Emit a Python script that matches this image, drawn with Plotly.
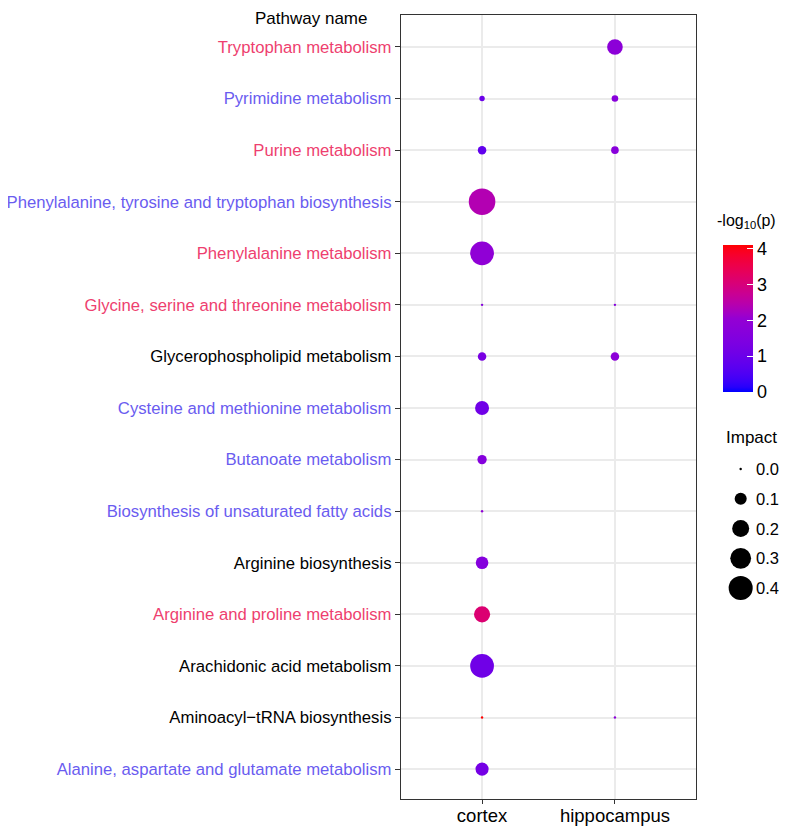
import numpy as np
import plotly.graph_objects as go

# ---------------- data ----------------
pathways = [
    "Tryptophan metabolism",
    "Pyrimidine metabolism",
    "Purine metabolism",
    "Phenylalanine, tyrosine and tryptophan biosynthesis",
    "Phenylalanine metabolism",
    "Glycine, serine and threonine metabolism",
    "Glycerophospholipid metabolism",
    "Cysteine and methionine metabolism",
    "Butanoate metabolism",
    "Biosynthesis of unsaturated fatty acids",
    "Arginine biosynthesis",
    "Arginine and proline metabolism",
    "Arachidonic acid metabolism",
    "Aminoacyl\u2212tRNA biosynthesis",
    "Alanine, aspartate and glutamate metabolism",
]
label_group = ["up", "down", "up", "down", "up", "up", "none", "down",
               "down", "down", "none", "up", "none", "none", "down"]

tissues = ["cortex", "hippocampus"]

cortex_impact = [None, 0.02, 0.05, 0.49, 0.39, 0.0, 0.05, 0.135, 0.06, 0.0, 0.11, 0.18, 0.39, 0.0, 0.12]
cortex_logp = [None, 1.0, 0.8, 2.4, 1.9, 1.6, 1.3, 1.1, 1.6, 1.9, 1.6, 3.1, 1.1, 4.1, 1.2]
hippo_impact = [0.17, 0.03, 0.04, None, None, 0.0, 0.05, None, None, None, None, None, None, 0.0, None]
hippo_logp = [1.8, 1.7, 1.7, None, None, 1.6, 1.8, None, None, None, None, None, None, 1.8, None]

impact_breaks = [0.0, 0.1, 0.2, 0.3, 0.4]
logp_ticks = [0, 1, 2, 3, 4]

# ---------------- styles ----------------
group_colors = {"up": "#EE3F6F", "down": "#6A5CF0", "none": "#000000"}
FONT = "Arial, Liberation Sans, sans-serif"


def srgb_to_lab(rgb):
    c = np.array(rgb) / 255.0
    c = np.where(c > 0.04045, ((c + 0.055) / 1.055) ** 2.4, c / 12.92)
    M = np.array([[0.4124, 0.3576, 0.1805], [0.2126, 0.7152, 0.0722], [0.0193, 0.1192, 0.9505]])
    xyz = M @ c / np.array([0.95047, 1.0, 1.08883])
    f = np.where(xyz > 0.008856, np.cbrt(xyz), 7.787 * xyz + 16 / 116)
    return np.array([116 * f[1] - 16, 500 * (f[0] - f[1]), 200 * (f[1] - f[2])])


def lab_to_srgb(lab):
    L, a, b = lab
    fy = (L + 16) / 116
    fx = fy + a / 500
    fz = fy - b / 200
    f = np.array([fx, fy, fz])
    xyz = np.where(f ** 3 > 0.008856, f ** 3, (f - 16 / 116) / 7.787) * np.array([0.95047, 1.0, 1.08883])
    Minv = np.array([[3.2406, -1.5372, -0.4986], [-0.9689, 1.8758, 0.0415], [0.0557, -0.2040, 1.0570]])
    c = Minv @ xyz
    c = np.where(c > 0.0031308, 1.055 * np.clip(c, 0, None) ** (1 / 2.4) - 0.055, 12.92 * c)
    c = np.clip(c, 0, 1) * 255
    return "rgb(%d,%d,%d)" % tuple(np.round(c).astype(int))


anchors = [srgb_to_lab([0, 0, 255]), srgb_to_lab([148, 0, 211]), srgb_to_lab([255, 0, 0])]
colorscale = []
for t in np.linspace(0, 1, 31):
    seg = min(int(t * 2), 1)
    u = t * 2 - seg
    colorscale.append([float(t), lab_to_srgb(anchors[seg] + (anchors[seg + 1] - anchors[seg]) * u)])

all_logp = [v for v in cortex_logp + hippo_logp if v is not None]
cmin, cmax = 0.0, max(all_logp)

all_imp = [v for v in cortex_impact + hippo_impact if v is not None]
max_d = 26.6
sizeref = 2.0 * max(all_imp) / max_d ** 2
SIZEMIN = 1.2


def sz(vals):
    return [None if v is None else max(v, 1e-9) for v in vals]


fig = go.Figure()

for tissue, imp, lp in [("cortex", cortex_impact, cortex_logp), ("hippocampus", hippo_impact, hippo_logp)]:
    xs, ys, ss, cs = [], [], [], []
    for p, i, c in zip(pathways, imp, lp):
        if i is None:
            continue
        xs.append(tissue)
        ys.append(p)
        ss.append(i)
        cs.append(c)
    fig.add_trace(go.Scatter(
        x=xs, y=ys, mode="markers", showlegend=False,
        marker=dict(size=sz(ss), sizemode="area", sizeref=sizeref, sizemin=SIZEMIN, opacity=1,
                    color=cs, colorscale=colorscale, cmin=cmin, cmax=cmax,
                    line=dict(width=0),
                    showscale=(tissue == "cortex"),
                    colorbar=dict(
                        thickness=30, len=147, lenmode="pixels",
                        x=0.834, xanchor="left", xpad=0,
                        y=0.6129, yanchor="middle", ypad=0,
                        outlinewidth=0,
                        tickvals=logp_ticks, ticktext=[str(t) for t in logp_ticks],
                        ticks="inside", ticklen=6, tickcolor="white", tickwidth=1,
                        tickfont=dict(size=18, color="black", family=FONT),
                    )),
    ))

# size legend
fig.add_trace(go.Scatter(
    x=[0] * len(impact_breaks), y=impact_breaks, xaxis="x2", yaxis="y2",
    mode="markers", showlegend=False, hoverinfo="skip",
    marker=dict(size=sz(impact_breaks), sizemode="area", sizeref=sizeref, sizemin=SIZEMIN,
                opacity=1, color="black", line=dict(width=0)),
))
for b in impact_breaks:
    fig.add_annotation(x=0.19, y=b, xref="x2", yref="y2", text="%.1f" % b, showarrow=False,
                       xanchor="left", yanchor="middle", borderpad=0,
                       font=dict(size=16.5, color="black", family=FONT))

fig.add_annotation(x=0.8135, y=0.736, xref="paper", yref="paper", text="-log<sub>10</sub>(p)",
                   showarrow=False, xanchor="left", yanchor="middle",
                   font=dict(size=16, color="black", family=FONT))
fig.add_annotation(x=0.8368, y=0.4605, xref="paper", yref="paper", text="Impact", showarrow=False,
                   xanchor="left", yanchor="middle", font=dict(size=17, color="black", family=FONT))
fig.add_annotation(x=-0.233, y=1 + 7 / 784, xref="paper", yref="paper", text="Pathway name",
                   showarrow=False, xanchor="center", yanchor="top", borderpad=0,
                   font=dict(size=17, color="black", family=FONT))

ticktext = ['<span style="color:%s">%s</span>' % (group_colors[g], p) for p, g in zip(pathways, label_group)]

n = len(pathways)
fig.update_layout(
    width=779, height=820,
    margin=dict(l=393, r=0, t=7, b=29, autoexpand=False),
    paper_bgcolor="white", plot_bgcolor="white",
    font=dict(family=FONT, color="black"),
    xaxis=dict(domain=[0, 295 / 386], type="category", categoryorder="array", categoryarray=tissues,
               range=[-0.61, 1.61], showgrid=True, gridcolor="#EBEBEB", gridwidth=1.5,
               showline=True, mirror=True, linecolor="#333333", linewidth=1.3,
               ticks="outside", ticklen=4, tickcolor="#333333", automargin=False,
               ticklabelstandoff=-4,
               tickfont=dict(size=18.5, color="black"), zeroline=False),
    yaxis=dict(type="category", categoryorder="array", categoryarray=pathways,
               tickvals=pathways, ticktext=ticktext, automargin=False,
               range=[n - 1 + 0.58, -0.62], showgrid=True, gridcolor="#EBEBEB", gridwidth=1.5,
               showline=True, mirror=True, linecolor="#333333", linewidth=1.3,
               ticks="outside", ticklen=5, tickcolor="#333333",
               tickfont=dict(size=16.7, color="black"), zeroline=False),
    xaxis2=dict(domain=[0.8, 1.0], range=[-0.4, 0.6], visible=False, anchor="y2"),
    yaxis2=dict(domain=[0.25, 0.44], range=[0.45, -0.05], visible=False, anchor="x2"),
)

fig.write_html("out.html")
